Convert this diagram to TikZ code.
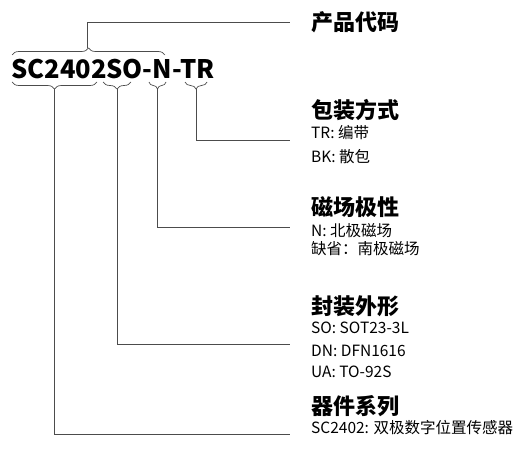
\documentclass[tikz,border=0pt]{standalone}
\usepackage{fontspec}
\setmainfont{Noto Sans CJK SC}
\usetikzlibrary{decorations.pathreplacing}

\begin{document}
\begin{tikzpicture}[x=1pt, y=-1pt,
  cat/.style = {anchor=west, inner sep=0pt, font=\fontsize{22}{22}\selectfont\bfseries},
  opt/.style = {anchor=west, inner sep=0pt, font=\fontsize{15.5}{15.5}\selectfont},
  link/.style = {draw=black!70, line width=0.7pt},
  grp/.style = {draw=black!70, line width=0.7pt, decorate, decoration={brace, amplitude=7pt}}]
\useasboundingbox (0,0) rectangle (518,457);
% part number
\node[anchor=base west, inner sep=0pt, font=\fontsize{25.5}{25.5}\selectfont\bfseries] (code) at (11,79) {SC2402SO-N-TR};
% braces
\draw[grp] (12,55) -- (165,55);
\draw[grp] (97,82) -- (12,82);
\draw[grp] (131,82) -- (103,82);
\draw[grp] (166,82) -- (149,82);
\draw[grp] (207,82) -- (185,82);
\coordinate (all) at (87,48);
\coordinate (serie) at (54,89);
\coordinate (pack) at (117,89);
\coordinate (pole) at (157,89);
\coordinate (tape) at (196,89);
% line ends
\coordinate (all-end) at (290,22);
\coordinate (tape-end) at (290,140);
\coordinate (pole-end) at (290,227);
\coordinate (pack-end) at (290,344);
\coordinate (serie-end) at (290,434);
% titles
\node[cat] (t-all) at (311,22) {产品代码};
\node[cat] (t-tape) at (311,110) {包装方式};
\node[opt] (o-tr) at (311,133) {TR: 编带};
\node[opt] (o-bk) at (311,157) {BK: 散包};
\node[cat] (t-pole) at (311,207) {磁场极性};
\node[opt] (o-n) at (311,231) {N: 北极磁场};
\node[opt] (o-s) at (311,249) {缺省：南极磁场};
\node[cat] (t-pack) at (311,306) {封装外形};
\node[opt] (o-so) at (311,328) {SO: SOT23-3L};
\node[opt] (o-dn) at (311,351) {DN: DFN1616};
\node[opt] (o-ua) at (311,372) {UA: TO-92S};
\node[cat] (t-serie) at (311,406) {器件系列};
\node[opt] (o-sc) at (311,428) {SC2402: 双极数字位置传感器};
% connectors
\draw[link] (all) |- (all-end);
\draw[link] (tape) |- (tape-end);
\draw[link] (pole) |- (pole-end);
\draw[link] (pack) |- (pack-end);
\draw[link] (serie) |- (serie-end);
\end{tikzpicture}
\end{document}
